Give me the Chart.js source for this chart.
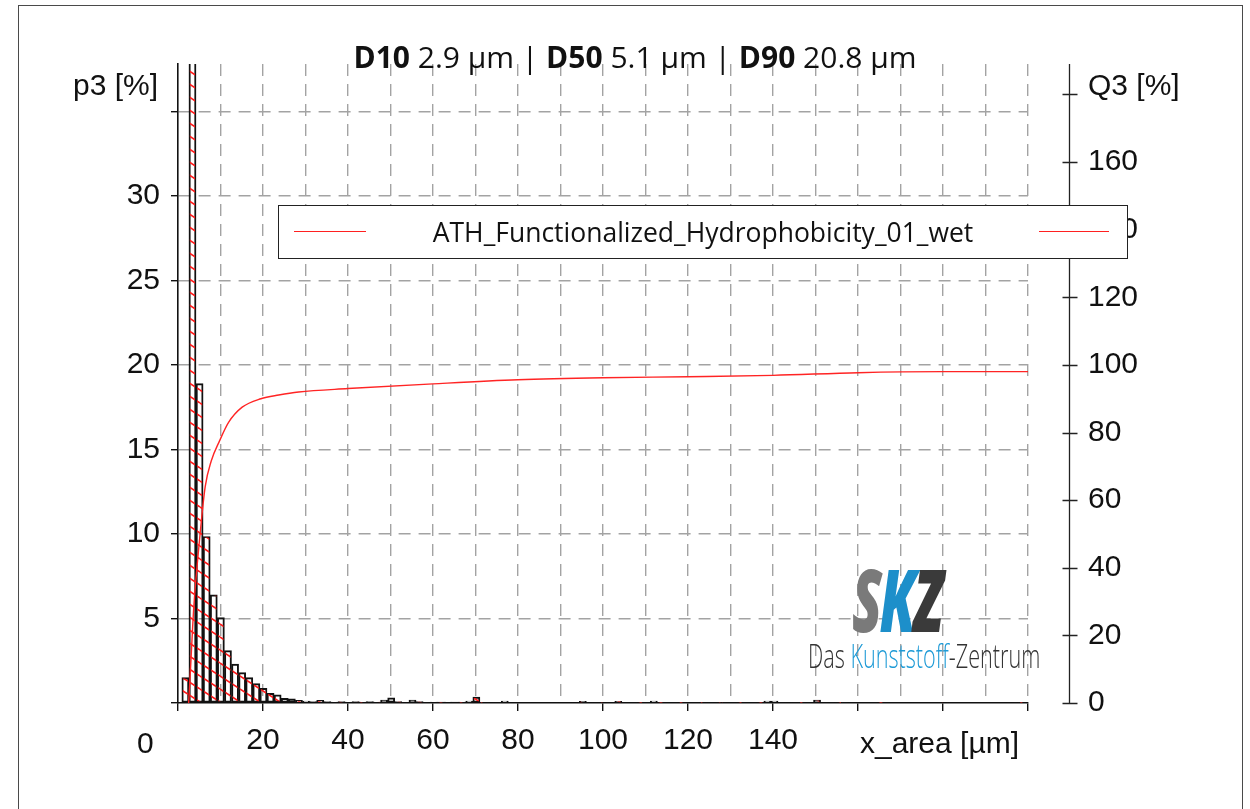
<!DOCTYPE html>
<html>
<head>
<meta charset="utf-8">
<script src="https://cdn.jsdelivr.net/npm/chart.js@4.4.1/dist/chart.umd.min.js"></script>
<style>
  html, body { margin: 0; padding: 0; background: #fff; }
  #wrap { position: relative; width: 1250px; height: 809px; overflow: hidden; }
  #chart { position: absolute; left: 0; top: 0; }
  .frame { position: absolute; left: 18px; top: 5px; width: 1225px; height: 900px; border: 1.5px solid #4a4a4a; box-sizing: border-box; }
  .lbl { position: absolute; font-family: "Liberation Sans", Arial, sans-serif; font-size: 30px; color: #111; white-space: nowrap; line-height: 1; }
  #title { position: absolute; left: 0; width: 1270px; top: 36px; text-align: center; font-family: "Open Sans", sans-serif; font-size: 30px; color: #111; white-space: nowrap; }
  #legend { position: absolute; left: 278px; top: 205px; width: 850px; height: 54px; border: 1.3px solid #222; background: #fff; box-sizing: border-box; }
  #legend .ln { position: absolute; top: 25px; height: 1.3px; background: #ff2020; }
  #legend .txt { position: absolute; left: 0; width: 100%; top: 8px; text-align: center; font-family: "Open Sans", sans-serif; font-size: 26.5px; color: #111; }
  .skz { position: absolute; left: 852px; top: 556px; font-family: "Open Sans", sans-serif; font-weight: 800; font-style: italic; font-size: 86px; line-height: 1; transform: scaleX(0.64); transform-origin: left top; letter-spacing: -4px; }
  .das { position: absolute; left: 808px; top: 639px; font-family: "Open Sans", sans-serif; font-weight: 300; font-size: 33px; line-height: 1; transform: scaleX(0.655); transform-origin: left top; color: #333; white-space: nowrap; }
</style>
</head>
<body>
<div id="wrap">
  <canvas id="chart" width="1250" height="809"></canvas>
  <div class="frame"></div>
  <div id="title"><b>D10</b> 2.9 µm | <b>D50</b> 5.1 µm | <b>D90</b> 20.8 µm</div>
  <div class="lbl" style="left:73px;top:70px;">p3 [%]</div>
  <div class="lbl" style="left:1088px;top:70px;">Q3 [%]</div>
  <div class="lbl" style="left:137px;top:728px;">0</div>
  <div class="lbl" style="left:860px;top:728px;">x_area [µm]</div>
  <div class="skz"><span style="color:#7a7a7a">S</span><span style="color:#1d8fca">K</span><span style="color:#3a3a3a">Z</span></div>
  <div class="das">Das <span style="color:#1d9ad6">Kunststoff</span>-Zentrum</div>
  <div id="legend">
    <div class="ln" style="left:15px;width:72px;"></div>
    <div class="txt">ATH_Functionalized_Hydrophobicity_01_wet</div>
    <div class="ln" style="left:760px;width:70px;"></div>
  </div>
</div>
<script>
// histogram bins (µm) and density p3 (%)
const binStart = 0.9;
const binWidth = 1.67;
const p3 = [
  1.5, 40, 18.9, 9.85, 6.4, 5.05, 3.1, 2.3, 1.8, 1.5, 1.15, 0.87, 0.57, 0.48, 0.28, 0.25,
  0.16, 0.12, 0.08, 0.16, 0.08, 0.06, 0.08, 0.06, 0.08, 0.06, 0.08, 0.06, 0.18, 0.3, 0.08, 0.02,
  0.18, 0.08, 0.03, 0.06, 0.05, 0.06, 0.05, 0.06, 0.12, 0.35, 0.02, 0.02, 0, 0.12, 0.02, 0,
  0, 0.02, 0, 0, 0.02, 0, 0, 0.02, 0.1, 0.02, 0, 0.02, 0, 0.1, 0.02, 0,
  0.02, 0, 0.12, 0.02, 0, 0, 0.02, 0, 0, 0.02, 0, 0.04, 0.04, 0, 0.02, 0,
  0, 0.02, 0.12, 0.12, 0, 0.02, 0, 0.04, 0, 0.18, 0, 0.04, 0.04, 0.04, 0.04, 0,
  0, 0, 0.04, 0, 0, 0, 0.02, 0, 0, 0, 0, 0.02, 0, 0, 0, 0,
  0, 0, 0, 0, 0.04, 0.04, 0.04, 0
];

// cumulative curve Q3 (%)
const q3X = [2.5, 2.9, 3.7, 5.2, 6.4, 7.8, 9.8, 11.9, 15.1, 19.5, 23.7, 28.4, 40, 60, 80, 100, 120, 140, 160, 180, 200];
const q3Y = [0, 9, 28, 50, 64, 71.5, 77.6, 83, 87.5, 90, 91.1, 92, 93, 94.4, 95.6, 96.2, 96.5, 96.9, 97.7, 98, 98];

// tick labels shown
const xTickLabels = [20, 40, 60, 80, 100, 120, 140];
const yTickLabels = [5, 10, 15, 20, 25, 30];
const y2TickLabels = [0, 20, 40, 60, 80, 100, 120, 140, 160];

// hatch pattern for the bars
const tile = document.createElement("canvas");
tile.width = 20; tile.height = 13;
const tc = tile.getContext("2d");
tc.strokeStyle = "#ff1a1a";
tc.lineWidth = 1.6;
[-13, 0, 13].forEach(c => {
  tc.beginPath();
  tc.moveTo(0, c);
  tc.lineTo(20, c + 13);
  tc.stroke();
});
const hatch = document.getElementById("chart").getContext("2d").createPattern(tile, "repeat");

const font = { family: "'Liberation Sans', Arial, sans-serif", size: 30 };
const gridGray = "#a3a3a3";
const clear = "rgba(0,0,0,0)";

// right Q3 axis sits a bit away from the plot
const rightAxis = {
  id: "rightAxis",
  afterDraw(chart) {
    const { ctx, chartArea, scales } = chart;
    const y2 = scales.y2;
    const ax = Math.round(chartArea.right + 41) + 0.5;
    ctx.save();
    ctx.strokeStyle = "#222";
    ctx.lineWidth = 1.3;
    ctx.beginPath();
    ctx.moveTo(ax, chartArea.top);
    ctx.lineTo(ax, chartArea.bottom);
    y2.ticks.forEach(t => {
      const py = Math.round(y2.getPixelForValue(t.value)) + 0.5;
      ctx.moveTo(ax - 7, py);
      ctx.lineTo(ax + 8, py);
    });
    ctx.stroke();
    ctx.restore();
  }
};

const noPadV = s => { s.paddingTop = 0; s.paddingBottom = 0; };

new Chart(document.getElementById("chart"), {
  type: "bar",
  data: {
    datasets: [
      {
        type: "line",
        label: "Q3",
        data: q3X.map((x, i) => ({ x: x, y: q3Y[i] })),
        yAxisID: "y2",
        borderColor: "#ff2424",
        borderWidth: 1.4,
        pointRadius: 0,
        cubicInterpolationMode: "monotone",
        order: 0
      },
      {
        type: "bar",
        label: "p3",
        data: p3.map((v, i) => ({ x: binStart + binWidth * (i + 0.5), y: v })),
        yAxisID: "y",
        backgroundColor: hatch,
        borderColor: "#111",
        borderWidth: 1.3,
        borderSkipped: false,
        categoryPercentage: 1,
        barPercentage: 1,
        order: 1
      }
    ]
  },
  options: {
    responsive: false,
    animation: false,
    devicePixelRatio: 1,
    layout: { padding: { top: 64, left: 0, right: 0, bottom: 0 } },
    plugins: { legend: { display: false }, title: { display: false }, tooltip: { enabled: false } },
    scales: {
      x: {
        type: "linear",
        min: 0,
        max: 200,
        offset: false,
        afterFit: s => { s.height = 106; s.paddingLeft = 0; s.paddingRight = 0; },
        grid: {
          offset: false,
          color: c => (c.tick && (c.tick.value === 0)) ? clear : gridGray,
          lineWidth: 1.4,
          tickLength: 8,
          tickColor: c => (c.tick && c.tick.value % 20 === 0) ? "#111" : clear,
          tickWidth: 1.4
        },
        border: { display: true, color: "#111", width: 1.6, dash: [12, 8] },
        ticks: {
          stepSize: 10,
          autoSkip: false,
          maxRotation: 0,
          minRotation: 0,
          padding: 12,
          color: "#111",
          font: font,
          callback: v => xTickLabels.includes(v) ? String(v) : ""
        }
      },
      y: {
        position: "left",
        min: 0,
        max: 37.8,
        afterFit: s => { s.width = 178; noPadV(s); },
        grid: {
          color: c => (c.tick && c.tick.value === 0) ? clear : gridGray,
          lineWidth: 1.4,
          tickLength: 7,
          tickColor: "#111",
          tickWidth: 1.4
        },
        border: { display: true, color: "#111", width: 1.6, dash: [12, 8] },
        ticks: {
          stepSize: 5,
          includeBounds: false,
          padding: 11,
          color: "#111",
          font: font,
          callback: v => yTickLabels.includes(v) ? String(v) : ""
        }
      },
      y2: {
        position: "right",
        min: 0,
        max: 189,
        afterFit: s => { s.width = 222; noPadV(s); },
        grid: { drawOnChartArea: false, drawTicks: false },
        border: { display: false },
        ticks: {
          stepSize: 20,
          includeBounds: false,
          padding: 60,
          color: "#111",
          font: font,
          callback: v => y2TickLabels.includes(v) ? String(v) : ""
        }
      }
    }
  },
  plugins: [rightAxis]
});
</script>
</body>
</html>
